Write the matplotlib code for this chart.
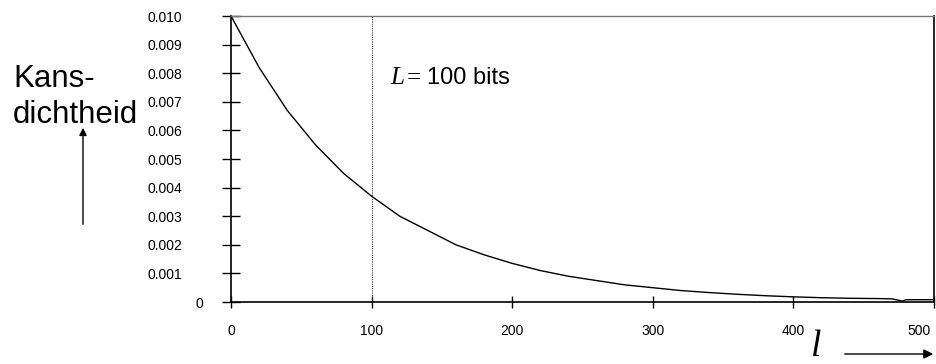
import matplotlib
matplotlib.use("Agg")
import matplotlib.pyplot as plt
import matplotlib.transforms as mtransforms
from matplotlib.patches import FancyArrowPatch

l_values = [0, 20, 40, 60, 80, 100, 120, 140, 160, 180, 200, 220, 240, 260, 280,
            300, 320, 340, 360, 380, 400, 420, 440, 460, 470, 478, 480, 500]
density = [0.0100, 0.0082, 0.0067, 0.0055, 0.0045, 0.0037, 0.0030, 0.0025, 0.0020,
           0.00165, 0.00135, 0.0011, 0.0009, 0.00075, 0.0006, 0.0005, 0.0004,
           0.00033, 0.00027, 0.00022, 0.00018, 0.00015, 0.00013, 0.00012, 0.00011,
           0.00003, 0.00008, 0.00008]
y_ticks = [0, 0.001, 0.002, 0.003, 0.004, 0.005, 0.006, 0.007, 0.008, 0.009, 0.010]
y_tick_labels = ["0", "0.001", "0.002", "0.003", "0.004", "0.005", "0.006", "0.007",
                 "0.008", "0.009", "0.010"]
x_ticks = [0, 100, 200, 300, 400, 500]
x_tick_labels = ["0", "100", "200", "300", "400", "500"]
L_value = 100

plt.rcParams['font.family'] = ['Liberation Sans', 'DejaVu Sans']

fig = plt.figure(figsize=(9.37, 3.64), dpi=100)
ax = fig.add_axes([231/937, 1-302/364, (934-231)/937, (302-16)/364])

ax.plot(l_values, density, color='black', lw=1.0)
ax.axvline(L_value, color='#333333', lw=0.8, linestyle=(0, (1, 1)))

ax.set_xlim(0, 500)
ax.set_ylim(0, 0.010)
ax.set_xticks(x_ticks)
ax.set_xticklabels(x_tick_labels, fontsize=10)
ax.set_yticks(y_ticks)
ax.set_yticklabels(y_tick_labels, fontsize=10)
ax.tick_params(axis='y', direction='inout', length=13, width=1, pad=28.5)
ax.tick_params(axis='x', direction='inout', length=9, width=1, pad=11)

for s in ['left', 'bottom', 'right']:
    ax.spines[s].set_color('black')
    ax.spines[s].set_linewidth(1.2)
ax.spines['top'].set_color('#777777')
ax.spines['top'].set_linewidth(1.0)

# shift the "0" y label to the right
lbl0 = ax.get_yticklabels()[0]
lbl0.set_transform(lbl0.get_transform() + mtransforms.ScaledTranslation(21/100, 0, fig.dpi_scale_trans))
# shift the "500" x label to the left
lbl5 = ax.get_xticklabels()[-1]
lbl5.set_transform(lbl5.get_transform() + mtransforms.ScaledTranslation(-15/100, 0, fig.dpi_scale_trans))

fig.text(13/937, 1-87/364, "Kans-", fontsize=22.5, ha='left', va='baseline')
fig.text(13/937, 1-123/364, "dichtheid", fontsize=22.5, ha='left', va='baseline')
fig.add_artist(FancyArrowPatch((83/937, 1-227/364), (83/937, 1-125/364),
               transform=fig.transFigure, arrowstyle='-|>', mutation_scale=11, color='black', lw=1))

fig.text(390/937, 1-84/364, "L", fontsize=18, family='Liberation Serif',
         style='italic', ha='left', va='baseline')
fig.text(407/937, 1-84/364, "=", fontsize=18, family='Liberation Serif',
         ha='left', va='baseline')
fig.text(427/937, 1-84/364, "100 bits", fontsize=17, ha='left', va='baseline')

fig.text(811/937, 0.5/364, "l", fontsize=27, family='Liberation Serif', style='italic',
         ha='left', va='bottom')
fig.add_artist(FancyArrowPatch((842/937, 1-354/364), (936/937, 1-354/364),
               transform=fig.transFigure, arrowstyle='-|>', mutation_scale=14, color='black', lw=1))

fig.savefig("out.png", dpi=100)
